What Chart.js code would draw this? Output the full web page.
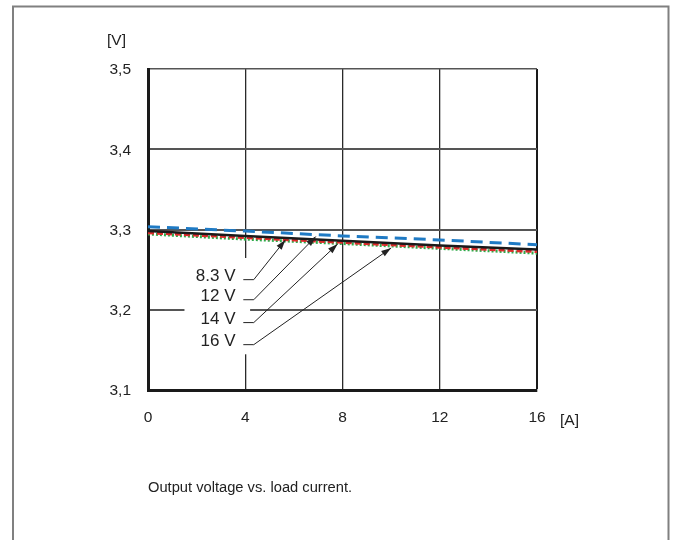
<!DOCTYPE html>
<html>
<head>
<meta charset="utf-8">
<script src="https://cdn.jsdelivr.net/npm/chart.js@4.4.1/dist/chart.umd.min.js"></script>
<style>
html,body{margin:0;padding:0;background:#fff;}
#wrap{position:relative;width:675px;height:540px;}
</style>
</head>
<body>
<div id="wrap"><canvas id="c" width="675" height="540"></canvas></div>
<script>
// ---- data ----
const loadCurrent = [0, 4, 8, 12, 16];               // [A]
const vIn8_3 = [3.298, 3.292, 3.286, 3.280, 3.275];   // black solid
const vIn12  = [3.3035, 3.298, 3.292, 3.287, 3.281];  // blue dashed
const vIn14  = [3.296, 3.290, 3.284, 3.278, 3.2725];  // red dashed
const vIn16  = [3.2945, 3.288, 3.2825, 3.2765, 3.2705]; // green dotted
const xTicks = [0, 4, 8, 12, 16];
const yTicks = [3.1, 3.2, 3.3, 3.4, 3.5];
const yTickLabels = ['3,1', '3,2', '3,3', '3,4', '3,5'];
const seriesNames = ['8.3 V', '12 V', '14 V', '16 V'];
const arrowTargetX = [5.65, 6.9, 7.8, 10.0];     // x value the arrow points at
const labelLevelY  = [3.2375, 3.2125, 3.184, 3.1565]; // y of each label leader
const caption = 'Output voltage vs. load current.';

const seriesValues = [vIn8_3, vIn12, vIn14, vIn16];
const FONT = '"Liberation Sans", Arial, sans-serif';

function interp(xs, ys, x) {
  for (let i = 0; i < xs.length - 1; i++) {
    if (x >= xs[i] && x <= xs[i + 1]) {
      const t = (x - xs[i]) / (xs[i + 1] - xs[i]);
      return ys[i] + t * (ys[i + 1] - ys[i]);
    }
  }
  return ys[ys.length - 1];
}

const decor = {
  id: 'decor',
  beforeDraw(chart) {
    const ctx = chart.ctx;
    ctx.save();
    ctx.strokeStyle = '#808080';
    ctx.lineWidth = 2;
    ctx.beginPath();
    ctx.moveTo(13, 545);
    ctx.lineTo(13, 6.5);
    ctx.lineTo(668.5, 6.5);
    ctx.lineTo(668.5, 545);
    ctx.stroke();
    ctx.restore();
  },
  afterDatasetsDraw(chart) {
    const ctx = chart.ctx;
    const xs = chart.scales.x, ys = chart.scales.y;
    const a = chart.chartArea;
    ctx.save();
    // white panel behind the labels
    ctx.fillStyle = '#fff';
    const mx0 = xs.getPixelForValue(1.5), mx1 = xs.getPixelForValue(4.2);
    const my0 = ys.getPixelForValue(3.2645), my1 = ys.getPixelForValue(3.1445);
    ctx.fillRect(mx0, my0, mx1 - mx0, my1 - my0);

    // labels, leaders, arrows
    ctx.font = '17px ' + FONT;
    ctx.fillStyle = '#222';
    ctx.textAlign = 'right';
    ctx.textBaseline = 'middle';
    const lx0 = xs.getPixelForValue(3.92), lx1 = xs.getPixelForValue(4.35);
    const textRight = xs.getPixelForValue(3.6);
    for (let i = 0; i < seriesNames.length; i++) {
      const ly = ys.getPixelForValue(labelLevelY[i]);
      ctx.fillText(seriesNames[i], textRight, ly - 3);
      const tx = xs.getPixelForValue(arrowTargetX[i]);
      const ty = ys.getPixelForValue(interp(loadCurrent, seriesValues[i], arrowTargetX[i])) + 2;
      ctx.strokeStyle = '#222';
      ctx.lineWidth = 1;
      ctx.beginPath();
      ctx.moveTo(lx0, ly);
      ctx.lineTo(lx1, ly);
      ctx.lineTo(tx, ty);
      ctx.stroke();
      // arrowhead
      const ang = Math.atan2(ty - ly, tx - lx1);
      const L = 10, W = 3.2;
      ctx.beginPath();
      ctx.moveTo(tx, ty);
      ctx.lineTo(tx - L * Math.cos(ang) + W * Math.sin(ang), ty - L * Math.sin(ang) - W * Math.cos(ang));
      ctx.lineTo(tx - L * Math.cos(ang) - W * Math.sin(ang), ty - L * Math.sin(ang) + W * Math.cos(ang));
      ctx.closePath();
      ctx.fillStyle = '#222';
      ctx.fill();
    }

    // y tick labels
    ctx.font = '15.5px ' + FONT;
    ctx.fillStyle = '#222';
    ctx.textAlign = 'right';
    ctx.textBaseline = 'middle';
    yTicks.forEach((v, i) => ctx.fillText(yTickLabels[i], a.left - 17, ys.getPixelForValue(v) + 1));
    // x tick labels
    ctx.textAlign = 'center';
    xTicks.forEach(v => ctx.fillText(String(v), xs.getPixelForValue(v), a.bottom + 28));
    // units
    ctx.textAlign = 'left';
    ctx.fillText('[V]', a.left - 41, a.top - 28);
    ctx.fillText('[A]', a.right + 23, a.bottom + 31);
    // caption
    ctx.font = '14.7px ' + FONT;
    ctx.fillText(caption, a.left, a.bottom + 98);
    ctx.restore();
  }
};

new Chart(document.getElementById('c'), {
  type: 'line',
  data: {
    datasets: [
      { label: seriesNames[1], data: loadCurrent.map((x, i) => ({x, y: vIn12[i]})),
        borderColor: '#1f7ac4', borderWidth: 3, borderDash: [12, 7], pointRadius: 0, order: 0 },
      { label: seriesNames[0], data: loadCurrent.map((x, i) => ({x, y: vIn8_3[i]})),
        borderColor: '#1a1a1a', borderWidth: 2.5, pointRadius: 0, order: 1 },
      { label: seriesNames[2], data: loadCurrent.map((x, i) => ({x, y: vIn14[i]})),
        borderColor: '#e02a2a', borderWidth: 3, borderDash: [6, 3], pointRadius: 0, order: 2 },
      { label: seriesNames[3], data: loadCurrent.map((x, i) => ({x, y: vIn16[i]})),
        borderColor: '#2eaa4a', borderWidth: 3, borderDash: [2, 2], pointRadius: 0, order: 3 }
    ]
  },
  options: {
    responsive: false,
    animation: false,
    events: [],
    layout: { padding: { left: 148, top: 69, right: 138, bottom: 150 } },
    plugins: { legend: { display: false }, tooltip: { enabled: false } },
    scales: {
      x: {
        type: 'linear', min: 0, max: 16,
        afterBuildTicks: s => { s.ticks = xTicks.map(v => ({value: v})); },
        ticks: { display: false },
        grid: { drawTicks: false, color: ctx => ctx.tick && ctx.tick.value === 16 ? '#1a1a1a' : '#2a2a2a',
                lineWidth: ctx => ctx.tick && ctx.tick.value === 16 ? 2 : 1.3 },
        border: { display: true, color: '#1a1a1a', width: 3 }
      },
      y: {
        type: 'linear', min: 3.1, max: 3.5,
        afterBuildTicks: s => { s.ticks = yTicks.map(v => ({value: v})); },
        ticks: { display: false },
        grid: { drawTicks: false, color: '#555', lineWidth: ctx => ctx.tick && ctx.tick.value === 3.5 ? 1.5 : 2 },
        border: { display: true, color: '#1a1a1a', width: 3 }
      }
    }
  },
  plugins: [decor]
});
</script>
</body>
</html>
